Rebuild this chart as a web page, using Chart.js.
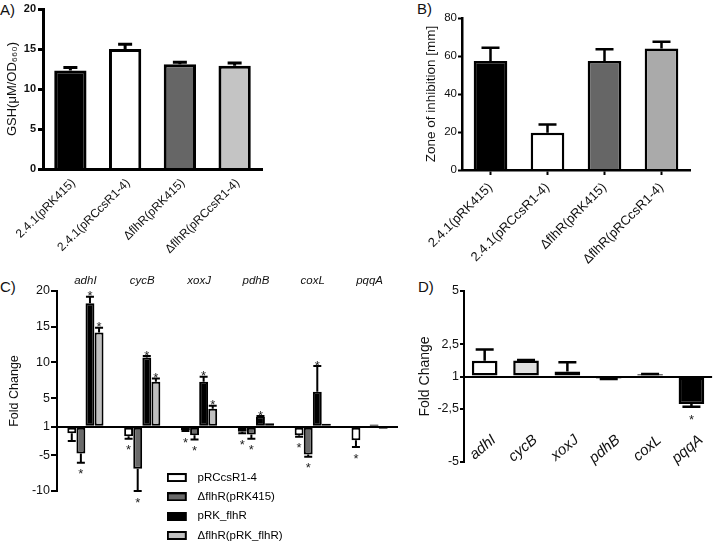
<!DOCTYPE html>
<html>
<head>
<meta charset="utf-8">
<script src="https://cdn.jsdelivr.net/npm/chart.js@4/dist/chart.umd.min.js"></script>
<style>
html,body{margin:0;padding:0;width:720px;height:543px;overflow:hidden;background:#fff;}
canvas{position:absolute;}
.pl{position:absolute;font-family:'Liberation Sans',Arial,sans-serif;font-size:15px;line-height:15px;color:#111;}
.axl{position:absolute;background:#000;z-index:5;}
</style>
</head>
<body>
<div class="pl" style="left:0;top:2px">A)</div>
<div class="pl" style="left:417px;top:1px">B)</div>
<div class="pl" style="left:0;top:279px">C)</div>
<div class="pl" style="left:418px;top:279px">D)</div>
<canvas id="cA" width="360" height="270" style="left:0;top:0"></canvas>
<canvas id="cB" width="360" height="270" style="left:360px;top:0"></canvas>
<canvas id="cL" width="230" height="100" style="left:159px;top:464px"></canvas>
<canvas id="cD" width="360" height="273" style="left:360px;top:270px"></canvas>
<canvas id="cC" width="400" height="273" style="left:0;top:270px"></canvas>
<div id="axC" class="axl"></div>
<div id="axD" class="axl"></div>
<script>
// ---------- Panel A : GSH ----------
const strainLabels = ['2.4.1(pRK415)', '2.4.1(pRCcsR1-4)', 'ΔflhR(pRK415)', 'ΔflhR(pRCcsR1-4)'];
const gshValues = [12.3, 15.0, 13.1, 12.9];
const gshErrors = [0.4, 0.6, 0.25, 0.35];
const gshColors = ['#000000', '#ffffff', '#666666', '#c4c4c4'];
const gshTicks = [0, 5, 10, 15, 20];

// ---------- Panel B : zone of inhibition ----------
const zoneValues = [57.4, 19.6, 57.4, 64.0];
const zoneErrors = [7.0, 4.4, 6.1, 3.5];
const zoneColors = ['#000000', '#ffffff', '#666666', '#aaaaaa'];
const zoneTicks = [0, 20, 40, 60, 80];

// ---------- Panel C : fold change ----------
const genes = ['adhI', 'cycB', 'xoxJ', 'pdhB', 'coxL', 'pqqA'];
const seriesNames = ['pRCcsR1-4', 'ΔflhR(pRK415)', 'pRK_flhR', 'ΔflhR(pRK_flhR)'];
const seriesColors = ['#ffffff', '#6a6a6a', '#000000', '#c0c0c0'];
const foldPRCcsR = [-1.9, -2.35, -1.5, -1.7, -2.2, -2.9];
const errPRCcsR = [1.1, 0.35, 0.1, 0.2, 0.2, 0.95];
const sigPRCcsR = [0, 1, 1, 1, 1, 1];
const foldDflhR = [-4.75, -6.9, -2.2, -2.1, -4.9, -1.1];
const errDflhR = [1.3, 3.1, 0.6, 0.6, 0.3, 0];
const sigDflhR = [1, 1, 1, 1, 1, 0];
const foldPRKflhR = [18.3, 10.7, 7.3, 2.4, 5.9, 1.3];
const errPRKflhR = [0.9, 0.2, 0.7, 0.1, 3.6, 0];
const sigPRKflhR = [1, 1, 1, 1, 1, 0];
const foldDflhRcomp = [14.2, 7.3, 3.5, 1.5, 1.4, -1.3];
const errDflhRcomp = [0.65, 0.45, 0.45, 0, 0, 0];
const sigDflhRcomp = [1, 1, 1, 0, 0, 0];
const cTickLabels = ['-10', '-5', '1', '5', '10', '15', '20'];

// ---------- Panel D : fold change ----------
const dFold = [1.74, 1.75, 1.23, -1.09, 1.1, -2.29];
const dErr = [0.52, 0.02, 0.44, 0.03, 0.02, 0.12];
const dSig = [0, 0, 0, 0, 0, 1];
const dColors = ['#ffffff', '#e0e0e0', '#a8a8a8', '#3a3a3a', '#2a2a2a', '#000000'];
const dTickLabels = ['-5', '-2,5', '1', '2,5', '5'];

// fold-change axis: 1 is the baseline, +x and -x fold are symmetric around it
const toAxis = v => (v >= 1 ? v - 1 : v + 1);
const parseLbl = s => parseFloat(s.replace(',', '.'));

Chart.defaults.font.family = "'Liberation Sans', Arial, Helvetica, 'DejaVu Sans', sans-serif";
Chart.defaults.color = '#111';

const errPlugin = {
  id: 'errbars',
  afterDatasetsDraw(chart, args, opts) {
    const ctx = chart.ctx, ys = chart.scales.y;
    chart.data.datasets.forEach((ds, di) => {
      if (!ds.errors) return;
      const meta = chart.getDatasetMeta(di);
      meta.data.forEach((el, i) => {
        const v = ds.data[i], e = ds.errors[i] || 0;
        const dir = v >= 0 ? 1 : -1;
        const x = el.x;
        const y0 = ys.getPixelForValue(v);
        const y1 = ys.getPixelForValue(v + dir * e);
        ctx.save();
        ctx.strokeStyle = '#000';
        ctx.lineWidth = opts.lineWidth;
        if (e > 0) {
          ctx.beginPath();
          ctx.moveTo(x, y0); ctx.lineTo(x, y1);
          ctx.moveTo(x - opts.capWidth / 2, y1); ctx.lineTo(x + opts.capWidth / 2, y1);
          ctx.stroke();
        }
        if (ds.sig && ds.sig[i]) {
          ctx.fillStyle = '#222';
          ctx.font = (opts.starSize || 13) + "px 'Liberation Sans', Arial, sans-serif";
          ctx.textAlign = 'center';
          ctx.textBaseline = 'alphabetic';
          ctx.fillText('*', x, dir > 0 ? y1 + opts.upBase : y1 + opts.downBase);
        }
        ctx.restore();
      });
    });
  },
  afterDraw(chart, args, opts) {
    // place the vertical axis line element from the chart's own plot-area geometry
    if (!opts.axisEl) return;
    const el = document.getElementById(opts.axisEl);
    const a = chart.chartArea, cv = chart.canvas;
    const w = 2.5;
    el.style.left = (cv.offsetLeft + a.left - w / 2) + 'px';
    el.style.top = (cv.offsetTop + a.top - 1) + 'px';
    el.style.width = w + 'px';
    el.style.height = (a.bottom - a.top + 2) + 'px';
  }
};

const zeroGrid = c => (c.tick && c.tick.value === 0 ? '#000' : 'rgba(0,0,0,0)');

// ---------- Chart A ----------
new Chart(document.getElementById('cA'), {
  type: 'bar',
  data: { labels: strainLabels, datasets: [{ data: gshValues, errors: gshErrors, backgroundColor: gshColors,
    borderColor: '#000', borderWidth: 3, categoryPercentage: 1, barPercentage: 0.59 }] },
  options: {
    responsive: false, animation: false, events: [], devicePixelRatio: 1,
    layout: { padding: { left: 5, top: 9, right: 98, bottom: 0 } },
    plugins: { legend: { display: false }, tooltip: { enabled: false }, errbars: { capWidth: 14, lineWidth: 3, upBase: 3, downBase: 15 } },
    scales: {
      x: { grid: { display: false, drawTicks: false }, border: { color: '#000', width: 3, z: 1 },
           ticks: { autoSkip: false, minRotation: 45, maxRotation: 45, padding: 7, labelOffset: 3, font: { size: 12 } },
           afterFit: s => { s.height = 101; } },
      y: { min: 0, max: 20, afterBuildTicks: s => { s.ticks = gshTicks.map(v => ({ value: v })); },
           ticks: { font: { size: 11, weight: 'bold' }, padding: 2 },
           grid: { drawOnChartArea: false, tickLength: 5, tickWidth: 3, tickColor: '#000' },
           border: { color: '#000', width: 3 },
           title: { display: true, text: 'GSH(μM/OD₆₆₀)', font: { size: 13 }, padding: 0 },
           afterFit: s => { s.width = 38; } }
    }
  },
  plugins: [errPlugin]
});

// ---------- Chart B ----------
new Chart(document.getElementById('cB'), {
  type: 'bar',
  data: { labels: strainLabels, datasets: [{ data: zoneValues, errors: zoneErrors, backgroundColor: zoneColors,
    borderColor: '#000', borderWidth: 2.5, categoryPercentage: 1, barPercentage: 0.59 }] },
  options: {
    responsive: false, animation: false, events: [], devicePixelRatio: 1,
    layout: { padding: { left: 63, top: 18, right: 30, bottom: 0 } },
    plugins: { legend: { display: false }, tooltip: { enabled: false }, errbars: { capWidth: 18, lineWidth: 2.5, upBase: 3, downBase: 15 } },
    scales: {
      x: { grid: { display: true, drawOnChartArea: false, offset: false, tickLength: 5, tickWidth: 2, tickColor: '#000', color: '#000' },
           border: { color: '#000', width: 2.5, z: 1 },
           ticks: { autoSkip: false, minRotation: 45, maxRotation: 45, padding: 5, font: { size: 13 } },
           afterFit: s => { s.height = 100; } },
      y: { min: 0, max: 80, afterBuildTicks: s => { s.ticks = zoneTicks.map(v => ({ value: v })); },
           ticks: { font: { size: 11.5 }, padding: 1 },
           grid: { drawOnChartArea: false, tickLength: 4, tickWidth: 2, tickColor: '#000' },
           border: { color: '#000', width: 2.5 },
           title: { display: true, text: 'Zone of inhibition [mm]', font: { size: 13.5 }, padding: 0 },
           afterFit: s => { s.width = 39; } }
    }
  },
  plugins: [errPlugin]
});

// ---------- Chart C ----------
const cSeries = [
  [foldPRCcsR, errPRCcsR, sigPRCcsR],
  [foldDflhR, errDflhR, sigDflhR],
  [foldPRKflhR, errPRKflhR, sigPRKflhR],
  [foldDflhRcomp, errDflhRcomp, sigDflhRcomp]
];
const cTickMap = new Map(cTickLabels.map(l => [toAxis(parseLbl(l)), l]));
new Chart(document.getElementById('cC'), {
  type: 'bar',
  data: { labels: genes, datasets: cSeries.map((s, i) => ({
    label: seriesNames[i], data: s[0].map(toAxis), errors: s[1], sig: s[2],
    backgroundColor: seriesColors[i], borderColor: '#000', borderWidth: 2, borderSkipped: false,
    categoryPercentage: 0.64, barPercentage: 0.98 })) },
  options: {
    responsive: false, animation: false, events: [], devicePixelRatio: 1,
    layout: { padding: { left: 7, top: 0, right: 2, bottom: 52 } },
    plugins: { legend: { display: false }, tooltip: { enabled: false },
      errbars: { capWidth: 8, lineWidth: 2, upBase: 3.5, downBase: 15.5, axisEl: 'axC' } },
    scales: {
      x: { position: 'top', grid: { display: false, drawTicks: false }, border: { display: false },
           ticks: { autoSkip: false, maxRotation: 0, padding: 3, font: { size: 11.5, style: 'italic' } },
           afterFit: s => { s.height = 21; } },
      y: { min: -9, max: 19,
           afterBuildTicks: s => { s.ticks = [...cTickMap.keys()].sort((a, b) => a - b).map(v => ({ value: v })); },
           ticks: { autoSkip: false, font: { size: 12.5 }, padding: 1, callback: v => cTickMap.get(v) ?? '' },
           grid: { color: zeroGrid, lineWidth: 2, tickLength: 6, tickWidth: 2, tickColor: '#000' },
           border: { color: '#000', width: 2 },
           title: { display: true, text: 'Fold Change', font: { size: 12.5 }, padding: 0 },
           afterFit: s => { s.width = 50; } }
    }
  },
  plugins: [errPlugin]
});

// ---------- Legend for C ----------
const marker = fill => {
  const c = document.createElement('canvas'); c.width = 25; c.height = 9;
  const g = c.getContext('2d');
  g.fillStyle = fill; g.fillRect(1, 1, 18, 7);
  g.strokeStyle = '#000'; g.lineWidth = 2; g.strokeRect(1, 1, 18, 7);
  return c;
};
new Chart(document.getElementById('cL'), {
  type: 'bar',
  data: { labels: [], datasets: seriesNames.map((n, i) => ({ label: n, data: [], backgroundColor: seriesColors[i] })) },
  options: {
    responsive: false, animation: false, events: [], devicePixelRatio: 1,
    layout: { padding: 0 },
    scales: { x: { display: false }, y: { display: false } },
    plugins: { tooltip: { enabled: false },
      legend: { position: 'left', align: 'start', maxWidth: 230,
        labels: { usePointStyle: true, pointStyleWidth: 25, boxHeight: 9, padding: 7.8, color: '#111', font: { size: 11.5 },
          generateLabels: ch => ch.data.datasets.map((d, i) => ({ text: d.label, pointStyle: marker(d.backgroundColor),
            fillStyle: d.backgroundColor, strokeStyle: '#000', lineWidth: 0, hidden: false, datasetIndex: i })) } } }
  }
});

// ---------- Chart D ----------
const dTickMap = new Map(dTickLabels.map(l => [toAxis(parseLbl(l)), l]));
new Chart(document.getElementById('cD'), {
  type: 'bar',
  data: { labels: genes, datasets: [{ data: dFold.map(toAxis), errors: dErr, sig: dSig, backgroundColor: dColors,
    borderColor: '#000', borderWidth: 2.5, borderSkipped: false, categoryPercentage: 1, barPercentage: 0.62 }] },
  options: {
    responsive: false, animation: false, events: [], devicePixelRatio: 1,
    layout: { padding: { left: 57, top: 21, right: 0, bottom: 0 } },
    plugins: { legend: { display: false }, tooltip: { enabled: false },
      errbars: { capWidth: 18, lineWidth: 2.5, upBase: 3.5, downBase: 17.5, axisEl: 'axD' } },
    scales: {
      x: { grid: { display: false, drawTicks: false }, border: { display: false },
           ticks: { autoSkip: false, mirror: true, minRotation: 40, maxRotation: 40, padding: 17, labelOffset: 21, font: { size: 15, style: 'italic' } },
           afterFit: s => { s.height = 81; } },
      y: { min: -4, max: 4,
           afterBuildTicks: s => { s.ticks = [...dTickMap.keys()].sort((a, b) => a - b).map(v => ({ value: v })); },
           ticks: { autoSkip: false, font: { size: 12.5 }, padding: 1, callback: v => dTickMap.get(v) ?? '' },
           grid: { color: zeroGrid, lineWidth: 2, tickLength: 4, tickWidth: 2, tickColor: '#000' },
           border: { color: '#000', width: 2 },
           title: { display: true, text: 'Fold Change', font: { size: 14 }, padding: 0 },
           afterFit: s => { s.width = 47; } }
    }
  },
  plugins: [errPlugin]
});
</script>
</body>
</html>
